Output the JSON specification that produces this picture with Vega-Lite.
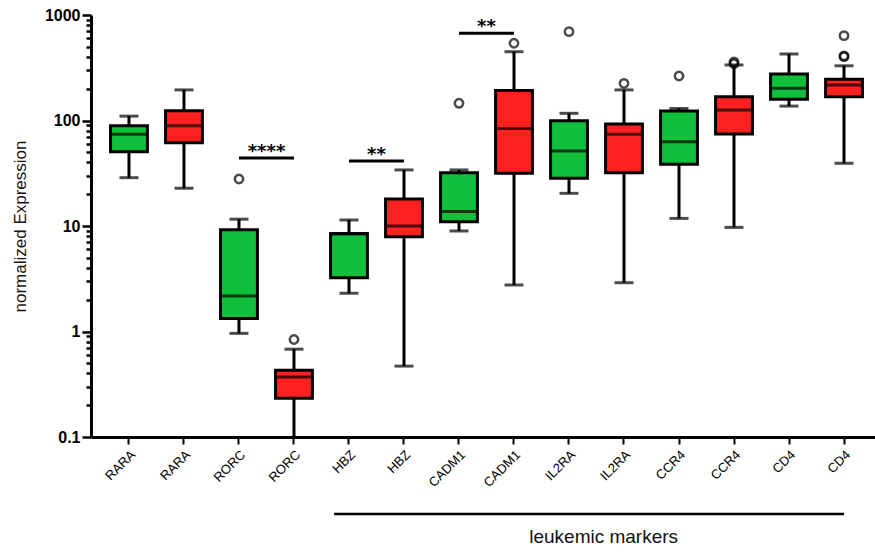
{
  "$schema": "https://vega.github.io/schema/vega-lite/v6.json",
  "background": "white",
  "padding": {"left": 11, "top": 7, "right": 0, "bottom": 2},
  "config": {"view": {"stroke": null}, "font": "Liberation Sans"},
  "spacing": 9,
  "datasets": {
    "boxes": [
      {"id": "RARA_g", "grp": "g", "lo": 28.7, "q1": 50.6, "med": 74, "q3": 89, "hi": 110},
      {"id": "RARA_r", "grp": "r", "lo": 22.8, "q1": 61.6, "med": 89, "q3": 124, "hi": 195},
      {"id": "RORC_g", "grp": "g", "lo": 0.96, "q1": 1.33, "med": 2.17, "q3": 9.2, "hi": 11.6},
      {"id": "RORC_r", "grp": "r", "lo": 0.08, "q1": 0.233, "med": 0.37, "q3": 0.43, "hi": 0.68},
      {"id": "HBZ_g", "grp": "g", "lo": 2.3, "q1": 3.24, "med": 8.4, "q3": 8.5, "hi": 11.4},
      {"id": "HBZ_r", "grp": "r", "lo": 0.47, "q1": 7.9, "med": 10, "q3": 18, "hi": 34},
      {"id": "CADM1_g", "grp": "g", "lo": 8.97, "q1": 11, "med": 13.7, "q3": 32, "hi": 34},
      {"id": "CADM1_r", "grp": "r", "lo": 2.76, "q1": 31.6, "med": 84, "q3": 192, "hi": 449},
      {"id": "IL2RA_g", "grp": "g", "lo": 20.4, "q1": 28.3, "med": 51.4, "q3": 99.6, "hi": 117},
      {"id": "IL2RA_r", "grp": "r", "lo": 2.9, "q1": 32, "med": 74, "q3": 92.7, "hi": 195},
      {"id": "CCR4_g", "grp": "g", "lo": 11.8, "q1": 38.4, "med": 63, "q3": 123, "hi": 130},
      {"id": "CCR4_r", "grp": "r", "lo": 9.7, "q1": 74.5, "med": 126, "q3": 168, "hi": 336},
      {"id": "CD4_g", "grp": "g", "lo": 137, "q1": 159, "med": 202, "q3": 276, "hi": 427},
      {"id": "CD4_r", "grp": "r", "lo": 39.3, "q1": 168, "med": 217, "q3": 246, "hi": 330}
    ],
    "outliers": [
      {"id": "RORC_g", "v": 27.9},
      {"id": "RORC_r", "v": 0.84},
      {"id": "CADM1_g", "v": 145.6},
      {"id": "CADM1_r", "v": 540},
      {"id": "IL2RA_g", "v": 695},
      {"id": "IL2RA_r", "v": 225},
      {"id": "CCR4_g", "v": 264},
      {"id": "CCR4_r", "v": 345},
      {"id": "CCR4_r", "v": 360},
      {"id": "CD4_r", "v": 637},
      {"id": "CD4_r", "v": 403},
      {"id": "CD4_r", "v": 410}
    ],
    "sig": [
      {"from": "RORC_g", "to": "RORC_r", "y": 44, "label": "****"},
      {"from": "HBZ_g", "to": "HBZ_r", "y": 41.3, "label": "**"},
      {"from": "CADM1_g", "to": "CADM1_r", "y": 670, "label": "**"}
    ],
    "group": [
      {"from": "HBZ_g", "to": "CD4_r", "mid": "IL2RA_r", "label": "leukemic markers"}
    ]
  },
  "vconcat": [
    {
      "width": 785,
      "height": 422,
      "layer": [
        {
          "data": {"name": "boxes"},
          "mark": {"type": "rule", "strokeWidth": 3, "color": "black", "clip": true},
          "encoding": {
            "x": {"field": "id", "type": "nominal", "sort": null,
              "scale": {"paddingInner": 0, "paddingOuter": 0.136, "align": 0.7},
              "axis": {"title": null, "labelExpr": "split(datum.label, '_')[0]", "labelAngle": -45,
                "labelFontSize": 13, "labelColor": "black", "labelPadding": 4, "tickSize": 7, "tickWidth": 2, "tickColor": "black",
                "domainWidth": 3, "domainColor": "black"}},
            "y": {"field": "lo", "type": "quantitative",
              "scale": {"type": "log", "domain": [0.1, 1000], "nice": false},
              "axis": {"title": "normalized Expression", "titleFontSize": 17, "titleFontWeight": "normal", "titleColor": "#1a1010", "titlePadding": 15,
                "values": [0.1, 0.2, 0.3, 0.4, 0.5, 0.6, 0.7, 0.8, 0.9, 1, 2, 3, 4, 5, 6, 7, 8, 9, 10, 20, 30, 40, 50, 60, 70, 80, 90, 100, 200, 300, 400, 500, 600, 700, 800, 900, 1000],
                "labelExpr": "abs(log(datum.value)/LN10 - round(log(datum.value)/LN10)) < 0.001 ? datum.label : ''",
                "format": "~g",
                "labelFontSize": 16, "labelFontWeight": "bold", "labelColor": "black", "labelPadding": 2,
                "tickSize": {"condition": {"test": "abs(log(datum.value)/LN10 - round(log(datum.value)/LN10)) < 0.001", "value": 9}, "value": 5},
                "tickWidth": 2.5, "tickColor": "black", "domainWidth": 3, "domainColor": "black", "grid": false}},
            "y2": {"field": "hi"}
          }
        },
        {
          "data": {"name": "boxes"},
          "mark": {"type": "tick", "thickness": 3, "size": 19, "color": "black", "clip": true},
          "encoding": {
            "x": {"field": "id", "type": "nominal", "sort": null},
            "y": {"field": "lo", "type": "quantitative"}
          }
        },
        {
          "data": {"name": "boxes"},
          "mark": {"type": "tick", "thickness": 3, "size": 19, "color": "black", "clip": true},
          "encoding": {
            "x": {"field": "id", "type": "nominal", "sort": null},
            "y": {"field": "hi", "type": "quantitative"}
          }
        },
        {
          "data": {"name": "boxes"},
          "mark": {"type": "bar", "stroke": "black", "strokeWidth": 3, "width": {"band": 0.67}, "clip": true},
          "encoding": {
            "x": {"field": "id", "type": "nominal", "sort": null},
            "y": {"field": "q1", "type": "quantitative"},
            "y2": {"field": "q3"},
            "fill": {"field": "grp", "type": "nominal", "scale": {"domain": ["g", "r"], "range": ["#10c03c", "#ff2020"]}, "legend": null}
          }
        },
        {
          "data": {"name": "boxes"},
          "mark": {"type": "tick", "thickness": 3, "size": 37, "color": "black", "clip": true},
          "encoding": {
            "x": {"field": "id", "type": "nominal", "sort": null},
            "y": {"field": "med", "type": "quantitative"}
          }
        },
        {
          "data": {"name": "outliers"},
          "mark": {"type": "point", "shape": "circle", "filled": false, "size": 70, "strokeWidth": 2.5, "color": "black"},
          "encoding": {
            "x": {"field": "id", "type": "nominal", "sort": null},
            "y": {"field": "v", "type": "quantitative"}
          }
        },
        {
          "data": {"name": "sig"},
          "mark": {"type": "rule", "strokeWidth": 3, "color": "black"},
          "encoding": {
            "x": {"field": "from", "type": "nominal", "sort": null},
            "x2": {"field": "to"},
            "y": {"field": "y", "type": "quantitative"}
          }
        },
        {
          "data": {"name": "sig"},
          "mark": {"type": "text", "font": "DejaVu Sans", "fontSize": 18, "fontWeight": "bold", "color": "black", "baseline": "bottom", "dy": 3},
          "encoding": {
            "x": {"field": "to", "type": "nominal", "sort": null, "bandPosition": 0},
            "y": {"field": "y", "type": "quantitative"},
            "text": {"field": "label"}
          }
        }
      ]
    },
    {
      "width": 785,
      "height": 30,
      "data": {"name": "group"},
      "layer": [
        {
          "mark": {"type": "rule", "strokeWidth": 2.5, "color": "black"},
          "encoding": {
            "x": {"field": "from", "type": "nominal", "bandPosition": 0.23,
              "scale": {"domain": ["RARA_g", "RARA_r", "RORC_g", "RORC_r", "HBZ_g", "HBZ_r", "CADM1_g", "CADM1_r", "IL2RA_g", "IL2RA_r", "CCR4_g", "CCR4_r", "CD4_g", "CD4_r"], "paddingInner": 0, "paddingOuter": 0.136, "align": 0.7},
              "axis": null},
            "x2": {"field": "to"}
          }
        },
        {
          "mark": {"type": "text", "fontSize": 19, "color": "#111111", "baseline": "top", "dy": 14},
          "encoding": {
            "x": {"field": "mid", "type": "nominal", "bandPosition": 0.13},
            "text": {"field": "label"}
          }
        }
      ]
    }
  ]
}
